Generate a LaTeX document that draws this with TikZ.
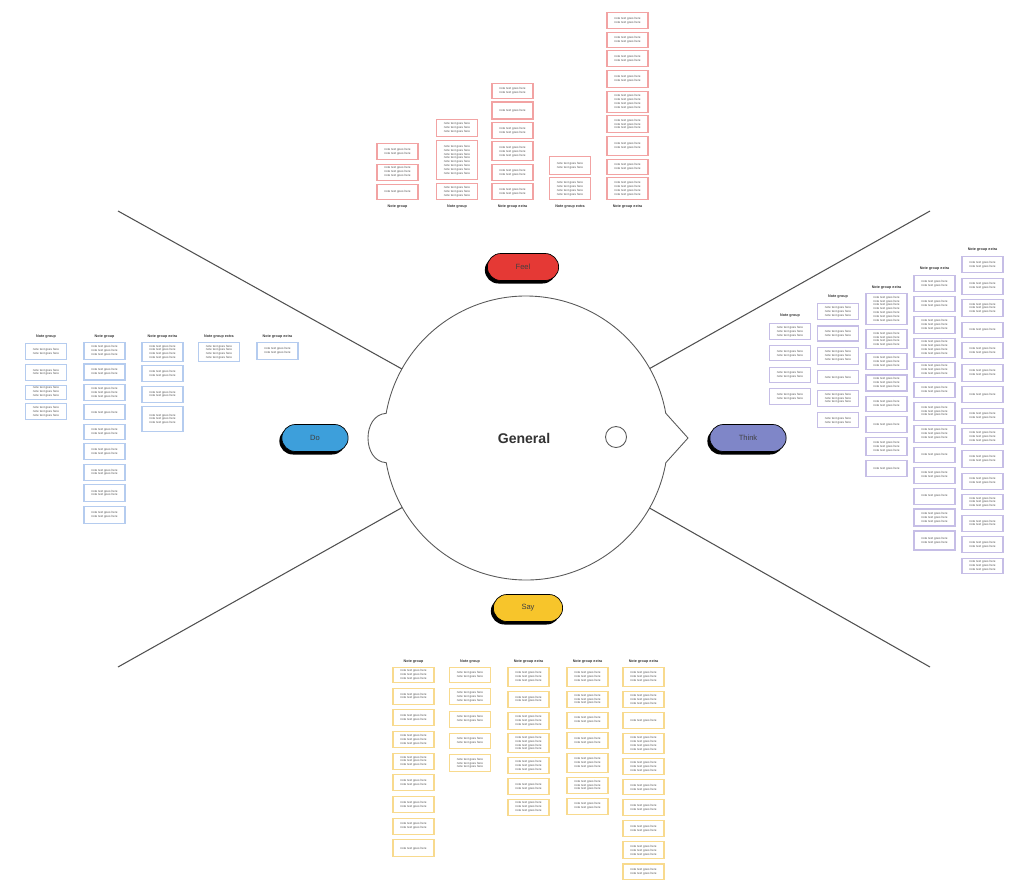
\documentclass[tikz,border=0pt]{standalone}
\usepackage{fontspec}
\setmainfont{Liberation Sans}
\usepackage{tikz}
\usetikzlibrary{positioning,calc,shapes.misc,shadows}

\definecolor{feelfill}{HTML}{E53935}
\definecolor{dofill}{HTML}{3D9FDB}
\definecolor{thinkfill}{HTML}{7F86C8}
\definecolor{sayfill}{HTML}{F7C52B}
\definecolor{feelline}{HTML}{F2A3A3}
\definecolor{doline}{HTML}{B5CCEF}
\definecolor{thinkline}{HTML}{C6BEE6}
\definecolor{sayline}{HTML}{F8DA8E}
\definecolor{spokecol}{HTML}{505050}

% lines of note text
\newcommand\fl{note text goes here}
\expandafter\def\csname fillno1\endcsname{\fl}
\expandafter\def\csname fillno2\endcsname{\fl\\\fl}
\expandafter\def\csname fillno3\endcsname{\fl\\\fl\\\fl}
\expandafter\def\csname fillno4\endcsname{\fl\\\fl\\\fl\\\fl}
\expandafter\def\csname fillno5\endcsname{\fl\\\fl\\\fl\\\fl\\\fl}
\expandafter\def\csname fillno6\endcsname{\fl\\\fl\\\fl\\\fl\\\fl\\\fl}
\expandafter\def\csname fillno7\endcsname{\fl\\\fl\\\fl\\\fl\\\fl\\\fl\\\fl}
\expandafter\def\csname fillno8\endcsname{\fl\\\fl\\\fl\\\fl\\\fl\\\fl\\\fl\\\fl}
\newcommand\filler[1]{\csname fillno#1\endcsname}

% one column of notes: name, style, x, top y, gap, heights/lines
\newcommand\notecol[6]{%
  \coordinate (#1-0) at (#3,#4);
  \foreach \h/\n [count=\i] in {#6}{
    \pgfmathtruncatemacro\j{\i-1}
    \ifnum\i=1
      \node[#2, minimum height=(\h-1)*0.02cm, below=0pt of #1-0] (#1-\i) {\filler{\n}};
    \else
      \node[#2, minimum height=(\h-1)*0.02cm, below=#5 of #1-\j] (#1-\i) {\filler{\n}};
    \fi
  }
}

\tikzset{
  notebox/.style={rectangle, draw, line width=0.6pt, minimum width=0.82cm,
    text width=0.66cm, inner sep=0.4pt, align=center,
    font=\fontsize{1.7}{2.2}\selectfont, text=black!70},
  feelbox/.style={notebox, draw=feelline},
  dobox/.style={notebox, draw=doline},
  thinkbox/.style={notebox, draw=thinkline},
  saybox/.style={notebox, draw=sayline},
  coltitle/.style={font=\bfseries\fontsize{2.1}{2.5}\selectfont, text=black!80, inner sep=0pt},
  pill/.style={rounded rectangle, draw=black, line width=0.4pt, minimum height=0.54cm,
    font=\fontsize{4.3}{5}\selectfont, text=black!75,
    drop shadow={shadow xshift=-0.05cm, shadow yshift=-0.06cm, fill=black, opacity=1}},
  headline/.style={draw=black!65, line width=0.5pt},
  spoke/.style={draw=spokecol, line width=0.6pt},
}

\begin{document}
\begin{tikzpicture}[x=0.02cm, y=-0.02cm]
\useasboundingbox (0,0) rectangle (1016,879);

% head
\coordinate (head) at (526,438);
\draw[headline, fill=white] (665.84,413.34) -- (688,438) -- (665.84,462.66)
  arc[start angle=-10, end angle=-170, radius=2.84cm]
  .. controls (374,462) and (368,450) .. (368,438)
  .. controls (368,426) and (374,414) .. (386.16,413.34)
  arc[start angle=170, end angle=10, radius=2.84cm] -- cycle;
\draw[headline] (616,437) circle[radius=0.21cm];
\node[font=\bfseries\fontsize{8}{9}\selectfont, text=black!80] (general) at (524,438) {General};

% spokes
\coordinate (ul) at (118,211);
\coordinate (ur) at (930,211);
\coordinate (ll) at (118,667);
\coordinate (lr) at (930,667);
\draw[spoke] (ul) -- ($(head)!2.84cm!(ul)$);
\draw[spoke] (ur) -- ($(head)!2.84cm!(ur)$);
\draw[spoke] (ll) -- ($(head)!2.84cm!(ll)$);
\draw[spoke] (lr) -- ($(head)!2.84cm!(lr)$);

% pills
\node[pill, fill=feelfill, minimum width=1.66cm] (feel) at (523,267) {Feel};
\node[pill, fill=dofill, minimum width=1.56cm] (do) at (315,438) {Do};
\node[pill, fill=thinkfill, minimum width=1.76cm] (think) at (748,438) {Think};
\node[pill, fill=sayfill, minimum width=1.62cm] (say) at (528,608) {Say};

% feel notes
\notecol{feelA}{feelbox}{397.5}{143}{0.07cm}{17/2,17/3,16/1}
\notecol{feelB}{feelbox}{457}{119}{0.06cm}{18/3,40/8,17/3}
\notecol{feelC}{feelbox}{512.5}{83}{0.048cm}{16/2,18/1,17/2,20/3,17/2,17/2}
\notecol{feelD}{feelbox}{570}{156}{0.04cm}{19/2,23/4}
\notecol{feelE}{feelbox}{627.5}{12}{0.052cm}{17/2,16/2,17/2,18/2,22/4,18/3,20/2,16/2,23/4}
\node[coltitle] (feelA-t) at (397.5,207) {Note group};
\node[coltitle] (feelB-t) at (457,207) {Note group};
\node[coltitle] (feelC-t) at (512.5,207) {Note group extra};
\node[coltitle] (feelD-t) at (570,207) {Note group extra};
\node[coltitle] (feelE-t) at (627.5,207) {Note group extra};

% think notes
\notecol{thinkA}{thinkbox}{790}{323}{0.106cm}{17/3,16/2,16/2,17/2}
\notecol{thinkB}{thinkbox}{838}{303}{0.108cm}{17/3,16/2,18/3,14/1,17/3,16/2}
\notecol{thinkC}{thinkbox}{886.5}{293}{0.082cm}{32/7,20/4,17/3,17/3,16/2,17/1,19/3,17/1}
\notecol{thinkD}{thinkbox}{934.5}{275}{0.078cm}{17/2,16/2,18/3,20/4,16/3,16/2,19/3,18/3,16/1,17/2,17/1,18/3,20/2}
\notecol{thinkE}{thinkbox}{982.5}{256}{0.09cm}{17/2,17/2,18/3,16/1,17/2,18/2,17/1,16/2,17/3,18/2,17/2,16/3,17/2,17/2,16/3}
\node[coltitle] (thinkA-t) at (790,316) {Note group};
\node[coltitle] (thinkB-t) at (838,297) {Note group};
\node[coltitle] (thinkC-t) at (886.5,288) {Note group extra};
\node[coltitle] (thinkD-t) at (934.5,269) {Note group extra};
\node[coltitle] (thinkE-t) at (982.5,250) {Note group extra};

% do notes
\notecol{doA}{dobox}{46}{343}{0.074cm}{17/2,17/2,15/3,17/3}
\notecol{doB}{dobox}{104.5}{342}{0.068cm}{18/3,17/2,17/3,16/1,16/2,17/2,17/2,18/2,18/2}
\notecol{doC}{dobox}{162.5}{342}{0.066cm}{20/4,17/2,17/2,26/3}
\notecol{doD}{dobox}{219}{342}{0cm}{20/4}
\notecol{doE}{dobox}{277.5}{342}{0cm}{18/2}
\node[coltitle] (doA-t) at (46,337) {Note group};
\node[coltitle] (doB-t) at (104.5,337) {Note group};
\node[coltitle] (doC-t) at (162.5,337) {Note group extra};
\node[coltitle] (doD-t) at (219,337) {Note group extra};
\node[coltitle] (doE-t) at (277.5,337) {Note group extra};

% say notes
\notecol{sayA}{saybox}{413.5}{667}{0.092cm}{16/3,17/2,17/2,17/3,17/3,17/2,17/2,17/2,18/1}
\notecol{sayB}{saybox}{470}{667}{0.105cm}{16/2,17/3,17/2,16/2,18/3}
\notecol{sayC}{saybox}{528.5}{667}{0.074cm}{20/3,17/2,18/3,20/4,17/3,17/2,17/3}
\notecol{sayD}{saybox}{587.5}{667}{0.074cm}{20/3,17/3,17/2,17/2,20/3,17/3,17/2}
\notecol{sayE}{saybox}{643.5}{667}{0.08cm}{20/3,17/3,17/1,21/4,17/3,16/2,17/2,17/2,18/3,17/2}
\node[coltitle] (sayA-t) at (413.5,662) {Note group};
\node[coltitle] (sayB-t) at (470,662) {Note group};
\node[coltitle] (sayC-t) at (528.5,662) {Note group extra};
\node[coltitle] (sayD-t) at (587.5,662) {Note group extra};
\node[coltitle] (sayE-t) at (643.5,662) {Note group extra};
\end{tikzpicture}
\end{document}
